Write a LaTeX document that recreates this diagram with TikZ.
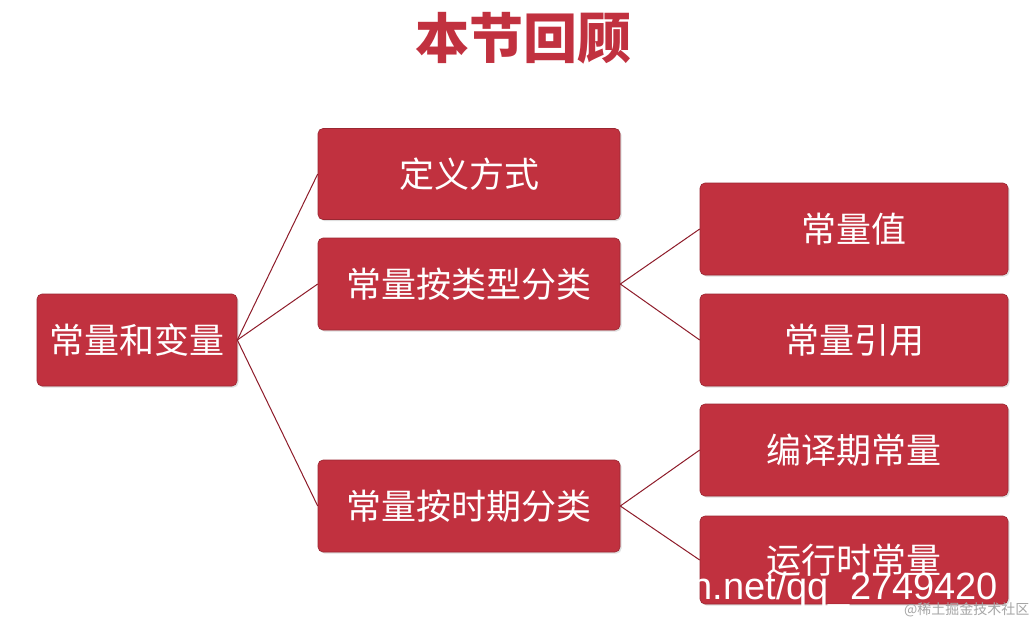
\documentclass[tikz,border=0pt]{standalone}
\usepackage{fontspec}
\setmainfont{Liberation Sans}
\newfontfamily\cjk{Noto Sans CJK SC}
\usetikzlibrary{shadows}
\definecolor{boxred}{HTML}{C1313F}
\definecolor{linered}{HTML}{8E1C2A}
\tikzset{
  bx/.style={draw=boxred!80!black, line width=0.6pt, fill=boxred, rounded corners=5pt, text=white,
    font=\cjk\fontsize{35}{35}\selectfont, inner sep=0pt, drop shadow={opacity=0.25,shadow xshift=1.5pt,shadow yshift=-1.5pt}},
  ln/.style={draw=linered, line width=1pt}
}
\begin{document}
\begin{tikzpicture}[x=1pt,y=-1pt]
\useasboundingbox[fill=white] (0,0) rectangle (1035,625);
\node (t) at (523,38) {\cjk\bfseries\fontsize{54}{54}\selectfont\color{boxred}本节回顾};
\node[bx, minimum width=200pt, minimum height=92pt] (a) at (137,340) {常量和变量};
\node[bx, minimum width=302pt, minimum height=91pt] (b1) at (469,174) {定义方式};
\node[bx, minimum width=302pt, minimum height=92pt] (b2) at (469,284) {常量按类型分类};
\node[bx, minimum width=302pt, minimum height=92pt] (b3) at (469,506) {常量按时期分类};
\node[bx, minimum width=308pt, minimum height=92pt] (c1) at (854,229) {常量值};
\node[bx, minimum width=308pt, minimum height=92pt] (c2) at (854,340) {常量引用};
\node[bx, minimum width=308pt, minimum height=92pt] (c3) at (854,450) {编译期常量};
\node[bx, minimum width=308pt, minimum height=88pt] (c4) at (854,560) {运行时常量};
\draw[ln] (a.east) -- (b1.west);
\draw[ln] (a.east) -- (b2.west);
\draw[ln] (a.east) -- (b3.west);
\draw[ln] (b2.east) -- (c1.west);
\draw[ln] (b2.east) -- (c2.west);
\draw[ln] (b3.east) -- (c3.west);
\draw[ln] (b3.east) -- (c4.west);
\node[anchor=west, text=white, font=\fontsize{38}{38}\selectfont] (w1) at (688,590) {n.net/qq\_2749420};
\node[anchor=east, text=gray!70, font=\cjk\fontsize{14}{14}\selectfont] (w2) at (1033,610) {@稀土掘金技术社区};
\end{tikzpicture}
\end{document}
